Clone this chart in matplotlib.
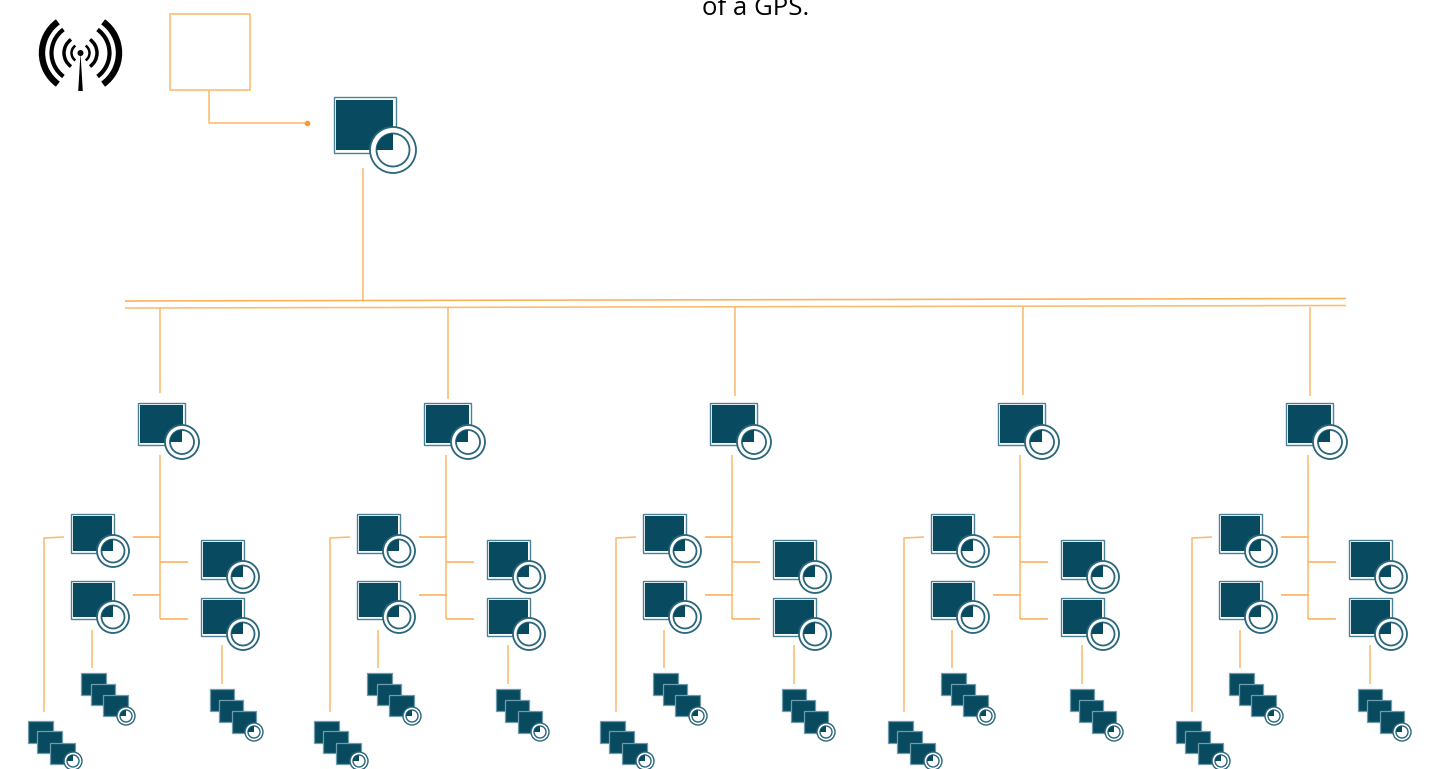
import matplotlib
matplotlib.use('Agg')
import matplotlib.pyplot as plt
from matplotlib.patches import Rectangle, Circle, Wedge, Arc, Polygon

ORANGE = '#fdbb6e'
DARK = '#084b60'
EDGE = '#4c8094'
RING = '#2a667c'

# groups on the bus
group_offset = [0, 286, 572, 860, 1148]
top_node_x = [138, 424, 710, 998, 1286]
drop_x = [160, 448, 735, 1023, 1310]
drop_end = [393, 399, 396, 395, 396]
trunk_x = [160, 446, 732, 1020, 1308]

# sub nodes of the first group: left, top, right, bottom
sub_nodes = [(71, 514, 114, 553), (71, 581, 114, 619), (201, 540, 244, 579), (201, 598, 244, 636)]
# stacks of the first group: (left, top, right, bottom) per square
stacks = [
    [(81, 673, 106, 695), (91, 684, 115, 705), (103, 695, 128, 716)],
    [(210, 689, 234, 711), (219, 700, 243, 722), (232, 711, 256, 733)],
    [(28, 721, 53, 743), (37, 731, 62, 753), (50, 743, 75, 764)],
]
stack_circle = [(126, 716), (254, 732), (73, 761)]

# connector segments of the first group, relative to the trunk or to the group
branch_y = [536.5, 595, 562, 619]
branch_from = [133, 133, 188, 188]
stub_x = [92.5, 222]
stub_y = [(630, 668), (645, 684)]

fig = plt.figure(figsize=(14.33, 7.69), dpi=100)
ax = fig.add_axes([0, 0, 1, 1])
ax.set_xlim(0, 1433)
ax.set_ylim(769, 0)
ax.axis('off')


def line(xs, ys, color=ORANGE, lw=1.15):
    ax.plot(xs, ys, color=color, lw=lw, solid_capstyle='butt', zorder=1)


def node(x0, y0, x1, y1, cx, cy, r, r2, gap=2, z=2):
    ax.add_patch(Rectangle((x0, y0), x1 - x0, y1 - y0, fc='white', ec=EDGE, lw=1.0, zorder=z))
    ax.add_patch(Rectangle((x0 + gap, y0 + gap), x1 - x0 - 2 * gap, y1 - y0 - 2 * gap,
                           fc=DARK, ec='none', zorder=z))
    ax.add_patch(Circle((cx, cy), r, fc='white', ec=RING, lw=1.3, zorder=z + 0.1))
    ax.add_patch(Circle((cx, cy), r2, fc='white', ec=RING, lw=1.3, zorder=z + 0.1))
    ax.add_patch(Wedge((cx, cy), r2, 180, 270, fc=DARK, ec='none', zorder=z + 0.2))


def square(x0, y0, x1, y1, z):
    ax.add_patch(Rectangle((x0, y0), x1 - x0, y1 - y0, fc=DARK, ec='#6f9cac', lw=0.9, zorder=z))


# antenna
ant_x, ant_y = 80.5, 53
for r, lw, ang in [(38.5, 4.6, 54), (29, 3.0, 54), (16.5, 2.5, 55), (9, 1.8, 55)]:
    for mid in (180, 0):
        ax.add_patch(Arc((ant_x, ant_y), 2 * r, 2 * r, theta1=mid - ang, theta2=mid + ang,
                         color='black', lw=lw, zorder=3))
ax.add_patch(Circle((ant_x, ant_y), 3, fc='black', ec='none', zorder=3))
ax.add_patch(Polygon([(ant_x, ant_y), (78.2, 91), (82.8, 91)], fc='black', ec='none', zorder=3))

# gps box
ax.add_patch(Rectangle((170, 14), 80, 76, fc='white', ec=ORANGE, lw=1.15, zorder=1))
line([209, 209, 307], [90, 123, 123])
ax.plot([307], [123], 'o', color='#fb9a2c', ms=3, zorder=2)

node(334, 97, 396, 152.5, 393, 150, 23, 16.5, gap=2.5)
line([363, 363], [168, 300])

# bus
line([125, 1346], [301, 298.5], color='#fdb05a')
line([125, 1346], [308, 305.5])

for i in range(len(group_offset)):
    off = group_offset[i]
    line([drop_x[i], drop_x[i]], [307, drop_end[i]])
    tx = top_node_x[i]
    node(tx, 403, tx + 47, 445, tx + 44, 442, 17, 12)
    t = trunk_x[i]
    line([t, t], [455, 619])
    for y, xf in zip(branch_y, branch_from):
        line([xf + off, t], [y, y], color='#fdb05a')
    for x0, y0, x1, y1 in sub_nodes:
        node(x0 + off, y0, x1 + off, y1, x1 - 1 + off, y1 - 2, 16, 11.5)
    line([64 + off, 44 + off, 44 + off], [537, 538, 712])
    for sx, (a, b) in zip(stub_x, stub_y):
        line([sx + off, sx + off], [a, b])
    for st, (cx, cy) in zip(stacks, stack_circle):
        z = 3
        for x0, y0, x1, y1 in st:
            square(x0 + off, y0, x1 + off, y1, z)
            z += 0.3
        ax.add_patch(Circle((cx + off, cy), 9, fc='white', ec=RING, lw=1.0, zorder=4))
        ax.add_patch(Circle((cx + off, cy), 6, fc='white', ec=RING, lw=1.0, zorder=4))
        ax.add_patch(Wedge((cx + off, cy), 6, 180, 270, fc=DARK, ec='none', zorder=4.1))

ax.text(755.5, 15, 'of a GPS.', family='Open Sans', fontsize=18.5, ha='center', va='baseline', color='black')

fig.savefig('out.png', dpi=100)
